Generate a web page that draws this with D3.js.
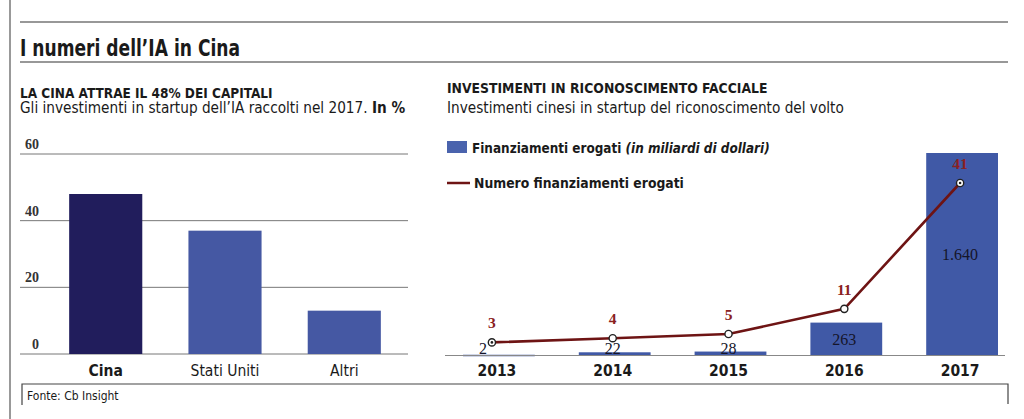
<!DOCTYPE html>
<html><head><meta charset="utf-8">
<script src="https://cdn.jsdelivr.net/npm/d3@7"></script>
<style>
html,body{margin:0;padding:0;background:#fff;}
svg{display:block;}
.nar{font-family:"DejaVu Sans Condensed","Liberation Sans Narrow","Open Sans",sans-serif;}
.ser{font-family:"Liberation Serif","DejaVu Serif",serif;}
</style></head>
<body>
<svg id="c" width="1024" height="419"></svg>
<script>
// Left chart data
const leftCats = ["Cina", "Stati Uniti", "Altri"];
const leftValues = [48, 37, 13];
const leftTicks = [0, 20, 40, 60];
// Right chart data
const years = ["2013", "2014", "2015", "2016", "2017"];
const fundsValues = [2, 22, 28, 263, 1640];
const fundsLabels = ["2", "22", "28", "263", "1.640"];
const countValues = [3, 4, 5, 11, 41];

const svg = d3.select("#c");

// frame lines
svg.append("line").attr("x1",10).attr("x2",10).attr("y1",0).attr("y2",419).attr("stroke","#555").attr("stroke-width",1.2);
svg.append("line").attr("x1",20).attr("x2",1008).attr("y1",22).attr("y2",22).attr("stroke","#333").attr("stroke-width",1.2);
svg.append("line").attr("x1",20).attr("x2",1008).attr("y1",62).attr("y2",62).attr("stroke","#333").attr("stroke-width",1.2);
svg.append("text").attr("class","nar").attr("x",20).attr("y",56).attr("font-size",23).attr("font-weight","bold")
  .attr("textLength",220).attr("lengthAdjust","spacingAndGlyphs").attr("fill","#1a1a1a").text("I numeri dell’IA in Cina");

// ---------- Left chart ----------
svg.append("text").attr("class","nar").attr("x",20).attr("y",98).attr("font-size",13.5).attr("font-weight","bold").attr("fill","#1a1a1a").text("LA CINA ATTRAE IL 48% DEI CAPITALI");
const st = svg.append("text").attr("class","nar").attr("x",20).attr("y",113).attr("font-size",15.2).attr("fill","#1a1a1a");
st.append("tspan").text("Gli investimenti in startup dell’IA raccolti nel 2017. ");
st.append("tspan").attr("font-weight","bold").text("In %");

const xL = d3.scaleBand().domain(leftCats).range([46.5, 403.5]).paddingInner(0.387).paddingOuter(0.19);
const yL = d3.scaleLinear().domain([0, 60]).range([354, 154]);

const gL = svg.append("g");
gL.selectAll("line.grid").data(leftTicks).join("line").attr("class","grid")
  .attr("x1",20).attr("x2",408).attr("y1",d=>yL(d)).attr("y2",d=>yL(d))
  .attr("stroke","#777").attr("stroke-width",1);
gL.selectAll("text.tick").data(leftTicks).join("text").attr("class","tick ser")
  .attr("x",d=>d===0?32:25).attr("y",d=>yL(d)-5).attr("font-size",14).attr("font-weight","bold").attr("fill","#333")
  .text(d=>d);
const leftColors = ["#211d5c", "#4558a3", "#4558a3"];
gL.selectAll("rect.bar").data(leftValues).join("rect").attr("class","bar")
  .attr("x",(d,i)=>xL(leftCats[i])).attr("width",xL.bandwidth())
  .attr("y",d=>yL(d)).attr("height",d=>yL(0)-yL(d))
  .attr("fill",(d,i)=>leftColors[i]);
gL.selectAll("text.cat").data(leftCats).join("text").attr("class","cat nar")
  .attr("x",d=>xL(d)+xL.bandwidth()/2).attr("y",376).attr("text-anchor","middle")
  .attr("font-size",15.5).attr("font-weight",(d,i)=>i===0?"bold":"normal").attr("fill","#1a1a1a")
  .text(d=>d);

// ---------- Right chart ----------
svg.append("text").attr("class","nar").attr("x",447).attr("y",93).attr("font-size",13.8).attr("font-weight","bold").attr("fill","#1a1a1a").text("INVESTIMENTI IN RICONOSCIMENTO FACCIALE");
svg.append("text").attr("class","nar").attr("x",447).attr("y",113).attr("font-size",15.2).attr("fill","#1a1a1a").text("Investimenti cinesi in startup del riconoscimento del volto");

// legend
svg.append("rect").attr("x",447).attr("y",141).attr("width",20).attr("height",12).attr("fill","#4a63ad");
const lg1 = svg.append("text").attr("class","nar").attr("x",472).attr("y",153).attr("font-size",13.4).attr("font-weight","bold").attr("fill","#1a1a1a");
lg1.append("tspan").text("Finanziamenti erogati ");
lg1.append("tspan").attr("font-style","italic").text("(in miliardi di dollari)");
svg.append("line").attr("x1",447).attr("x2",470).attr("y1",183).attr("y2",183).attr("stroke","#6e1414").attr("stroke-width",2.5);
svg.append("text").attr("class","nar").attr("x",474).attr("y",188).attr("font-size",13.8).attr("font-weight","bold").attr("fill","#1a1a1a").text("Numero finanziamenti erogati");

const xR = d3.scaleBand().domain(years).range([441, 1020]).paddingInner(0.38).paddingOuter(0.19);
const yB = d3.scaleLinear().domain([0, 1640]).range([355, 153]);
const yC = d3.scaleLinear().domain([0, 41]).range([355, 183]);
const cx = d => xR(d) + xR.bandwidth()/2;

const gR = svg.append("g");
gR.selectAll("rect.bar").data(fundsValues).join("rect").attr("class","bar")
  .attr("x",(d,i)=>xR(years[i])).attr("width",xR.bandwidth())
  .attr("y",d=>yB(d)).attr("height",d=>Math.max(1.5,yB(0)-yB(d)))
  .attr("fill","#4059a6");
gR.append("line").attr("x1",445).attr("x2",1005).attr("y1",355.5).attr("y2",355.5).attr("stroke","#888").attr("stroke-width",1);

// bar labels
gR.selectAll("text.val").data(fundsValues).join("text").attr("class","val ser")
  .attr("x",(d,i)=>i===0?cx(years[i])-16:cx(years[i])-2)
  .attr("y",d=>Math.min((yB(d)+yB(0))/2+6, 354))
  .attr("text-anchor","middle").attr("font-size",16).attr("fill","#15152a")
  .text((d,i)=>fundsLabels[i]);

// line
const pts = countValues.map((v,i)=>[cx(years[i]) - (i===0?7:2), yC(v)]);
gR.append("path").attr("d",d3.line().curve(d3.curveLinear)(pts))
  .attr("fill","none").attr("stroke","#6e1414").attr("stroke-width",2.6);
gR.selectAll("circle.pt").data(pts).join("circle").attr("class","pt")
  .attr("cx",d=>d[0]).attr("cy",d=>d[1]).attr("r",3.6)
  .attr("fill","#fff").attr("stroke","#222").attr("stroke-width",1.4);
gR.selectAll("circle.in").data([pts[0], pts[4]]).join("circle").attr("class","in")
  .attr("cx",d=>d[0]).attr("cy",d=>d[1]).attr("r",1.3).attr("fill","#222");
gR.selectAll("text.cnt").data(countValues).join("text").attr("class","cnt ser")
  .attr("x",(d,i)=>pts[i][0]).attr("y",(d,i)=>pts[i][1]-14)
  .attr("text-anchor","middle").attr("font-size",15.5).attr("font-weight","bold").attr("fill","#8a2020")
  .text(d=>d);

gR.selectAll("text.yr").data(years).join("text").attr("class","yr nar")
  .attr("x",d=>cx(d)-2).attr("y",376).attr("text-anchor","middle")
  .attr("font-size",15.5).attr("font-weight","bold").attr("fill","#1a1a1a")
  .text(d=>d);

// footer box
svg.append("path").attr("d","M22,405 V384 H1008 V404").attr("fill","none").attr("stroke","#444").attr("stroke-width",1.2);
svg.append("text").attr("class","nar").attr("x",27).attr("y",400).attr("font-size",12).attr("fill","#1a1a1a").text("Fonte: Cb Insight");
</script>
</body></html>
